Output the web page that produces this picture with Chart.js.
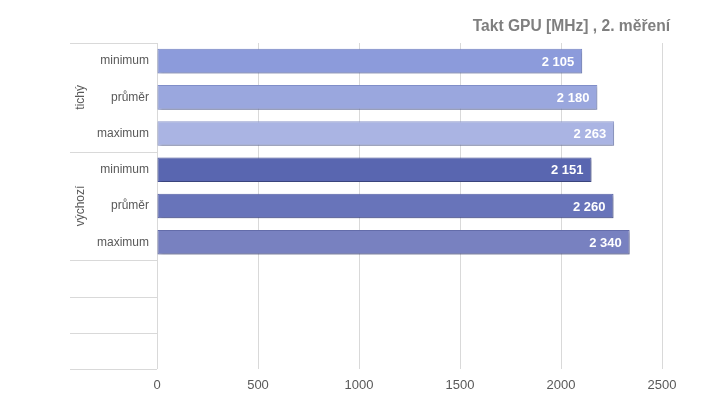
<!DOCTYPE html>
<html lang="cs">
<head>
  <meta charset="UTF-8">
  <title>Takt GPU</title>
  <script src="https://cdn.jsdelivr.net/npm/chart.js"></script>
  <style>
    html, body { margin: 0; padding: 0; background: #fff; }
    #wrap { width: 719px; height: 407px; }
  </style>
</head>
<body>
  <div id="wrap"><canvas id="graf"></canvas></div>

  <script>
    const titulek = 'Takt GPU [MHz] , 2. měření';
    const kategorie = ['minimum', 'průměr', 'maximum', 'minimum', 'průměr', 'maximum', '', '', ''];
    const hodnoty = [2105, 2180, 2263, 2151, 2260, 2340, null, null, null];
    const skupiny = ['tichý', 'výchozí'];
    const skupinyRozsah = [[0, 2], [3, 5]];
    const barvy = ['#8c9bdb', '#9aa7de', '#aab4e3', '#5966b0', '#6874ba', '#7881c0'];
    const okraje = ['#7584c4', '#8290cb', '#919ccf', '#49559c', '#5762a6', '#646dab'];
    const osaX = [0, 500, 1000, 1500, 2000, 2500];

    const font = 'Liberation Sans, Arial, sans-serif';

    function formatCislo(v) {
      return String(v).replace(/\B(?=(\d{3})+(?!\d))/g, ' ');
    }

    const stinPlugin = {
      id: 'stin',
      beforeDatasetDraw(chart) {
        const ctx = chart.ctx;
        ctx.save();
        ctx.shadowColor = 'rgba(0,0,0,0.28)';
        ctx.shadowBlur = 3;
        ctx.shadowOffsetX = 1;
        ctx.shadowOffsetY = 2;
      },
      afterDatasetDraw(chart) {
        chart.ctx.restore();
      }
    };

    const popiskyPlugin = {
      id: 'popisky',
      afterDatasetsDraw(chart) {
        const ctx = chart.ctx;
        const meta = chart.getDatasetMeta(0);
        ctx.save();
        ctx.fillStyle = '#fff';
        ctx.font = 'bold 13px ' + font;
        ctx.textAlign = 'right';
        ctx.textBaseline = 'middle';
        meta.data.forEach((bar, i) => {
          if (hodnoty[i] == null) return;
          ctx.fillText(formatCislo(hodnoty[i]), bar.x - 8, bar.y + 1);
        });
        ctx.restore();
      }
    };

    const osaPlugin = {
      id: 'osa',
      afterDraw(chart) {
        const ctx = chart.ctx;
        const y = chart.scales.y;
        const area = chart.chartArea;
        const levy = 70;
        const krok = y.getPixelForValue(1) - y.getPixelForValue(0);
        ctx.save();
        ctx.strokeStyle = '#d9d9d9';
        ctx.lineWidth = 1;
        // oddelovace skupin a prazdnych radku
        const hranice = [0, 3, 6, 7, 8, 9];
        hranice.forEach(h => {
          const py = Math.round(y.getPixelForValue(h) - krok / 2) + 0.5;
          ctx.beginPath();
          ctx.moveTo(levy, py);
          ctx.lineTo(area.left, py);
          ctx.stroke();
        });
        // nazvy skupin
        ctx.fillStyle = '#595959';
        ctx.font = '12px ' + font;
        ctx.textAlign = 'center';
        ctx.textBaseline = 'middle';
        skupiny.forEach((s, i) => {
          const [a, b] = skupinyRozsah[i];
          const cy = (y.getPixelForValue(a) + y.getPixelForValue(b)) / 2;
          ctx.save();
          ctx.translate(81, cy);
          ctx.rotate(-Math.PI / 2);
          ctx.fillText(s, 0, 0);
          ctx.restore();
        });
        // titulek
        ctx.fillStyle = '#7f7f7f';
        ctx.font = 'bold 15.6px ' + font;
        ctx.textAlign = 'right';
        ctx.textBaseline = 'alphabetic';
        ctx.fillText(titulek, 670, 31);
        ctx.restore();
      }
    };

    new Chart(document.getElementById('graf'), {
      type: 'bar',
      data: {
        labels: kategorie,
        datasets: [{
          data: hodnoty,
          backgroundColor: barvy,
          borderColor: okraje,
          borderWidth: 1,
          borderSkipped: false,
          categoryPercentage: 1,
          barPercentage: 0.68
        }]
      },
      options: {
        indexAxis: 'y',
        responsive: true,
        maintainAspectRatio: false,
        animation: false,
        layout: { padding: { top: 43, right: 57, left: 0, bottom: 0 } },
        plugins: {
          legend: { display: false },
          tooltip: { enabled: false }
        },
        scales: {
          x: {
            min: 0,
            max: 2500,
            afterBuildTicks: s => { s.ticks = osaX.map(v => ({ value: v })); },
            afterFit: s => { s.height = 38; },
            grid: { color: '#d9d9d9', drawTicks: false },
            border: { display: false },
            ticks: {
              color: '#595959',
              font: { family: font, size: 13 },
              padding: 9,
              maxRotation: 0,
              callback: v => String(v)
            }
          },
          y: {
            afterFit: s => { s.width = 157; },
            grid: { display: false },
            border: { display: false },
            ticks: {
              color: '#595959',
              font: { family: font, size: 12 },
              padding: 0,
              autoSkip: false
            }
          }
        }
      },
      plugins: [stinPlugin, popiskyPlugin, osaPlugin]
    });
  </script>
</body>
</html>
